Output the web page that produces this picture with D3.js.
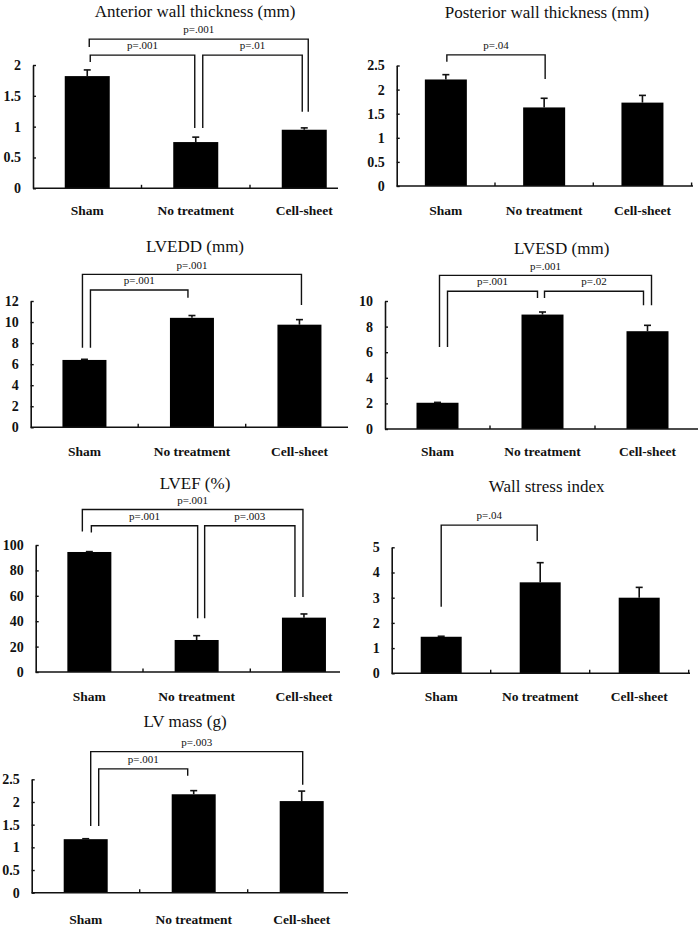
<!DOCTYPE html>
<html><head><meta charset="utf-8">
<script src="https://cdn.jsdelivr.net/npm/d3@7"></script>
<style>
body{margin:0;background:#fff}
svg{display:block}
text{font-family:"Liberation Serif","Times New Roman",serif;fill:#111}
</style>
</head><body>
<svg id="c" width="700" height="926"></svg>
<script>
const categories = ["Sham", "No treatment", "Cell-sheet"];
const titles = ["Anterior wall thickness (mm)", "Posterior wall thickness (mm)", "LVEDD (mm)", "LVESD (mm)", "LVEF (%)", "Wall stress index", "LV mass (g)"];

const anteriorMean = [1.82, 0.75, 0.95];
const anteriorSem = [0.10, 0.08, 0.03];
const anteriorTicks = [0, 0.5, 1, 1.5, 2];
const anteriorBrackets = [
  {from: 0, to: 1, label: "p=.001", top: 2.16, legFrom: 2.05, legTo: 0.98, dxFrom: 3, dxTo: -1},
  {from: 1, to: 2, label: "p=.01", top: 2.16, legFrom: 0.98, legTo: 1.24, dxFrom: 7, dxTo: -2},
  {from: 0, to: 2, label: "p=.001", top: 2.42, legFrom: 2.29, legTo: 1.24, dxFrom: 2, dxTo: 4}
];

const posteriorMean = [2.21, 1.63, 1.73];
const posteriorSem = [0.10, 0.19, 0.15];
const posteriorTicks = [0, 0.5, 1, 1.5, 2, 2.5];
const posteriorBrackets = [
  {from: 0, to: 1, label: "p=.04", top: 2.72, legFrom: 2.58, legTo: 2.22, dxFrom: 1, dxTo: 1}
];

const lvedddMean = [6.4, 10.4, 9.75];
const lvedddSem = [0.06, 0.22, 0.48];
const lvedddTicks = [0, 2, 4, 6, 8, 10, 12];
const lvedddBrackets = [
  {from: 0, to: 1, label: "p=.001", top: 13.04, legFrom: 7.56, legTo: 12.31, dxFrom: 6, dxTo: -4},
  {from: 0, to: 2, label: "p=.001", top: 14.53, legFrom: 7.56, legTo: 11.61, dxFrom: -2, dxTo: 2}
];

const lvesdMean = [2.05, 8.94, 7.64];
const lvesdSem = [0.03, 0.20, 0.46];
const lvesdTicks = [0, 2, 4, 6, 8, 10];
const lvesdBrackets = [
  {from: 0, to: 1, label: "p=.001", top: 10.76, legFrom: 6.41, legTo: 10.23, dxFrom: 10, dxTo: -5},
  {from: 1, to: 2, label: "p=.02", top: 10.76, legFrom: 10.23, legTo: 9.66, dxFrom: 2, dxTo: -4},
  {from: 0, to: 2, label: "p=.001", top: 12.0, legFrom: 6.41, legTo: 9.66, dxFrom: 2, dxTo: 4}
];

const lvefMean = [94.5, 25.2, 42.8];
const lvefSem = [0.3, 3.4, 2.9];
const lvefTicks = [0, 20, 40, 60, 80, 100];
const lvefBrackets = [
  {from: 0, to: 1, label: "p=.001", top: 115.2, legFrom: 109.9, legTo: 42.4, dxFrom: 2, dxTo: 1},
  {from: 1, to: 2, label: "p=.003", top: 115.2, legFrom: 42.4, legTo: 59.0, dxFrom: 8, dxTo: -9},
  {from: 0, to: 2, label: "p=.001", top: 127.9, legFrom: 110.7, legTo: 59.0, dxFrom: -7, dxTo: -1}
];

const stressMean = [1.45, 3.61, 3.0];
const stressSem = [0.02, 0.78, 0.41];
const stressTicks = [0, 1, 2, 3, 4, 5];
const stressBrackets = [
  {from: 0, to: 1, label: "p=.04", top: 5.88, legFrom: 2.64, legTo: 5.25, dxFrom: 0, dxTo: -3}
];

const massMean = [1.18, 2.17, 2.02];
const massSem = [0.01, 0.08, 0.22];
const massTicks = [0, 0.5, 1, 1.5, 2, 2.5];
const massBrackets = [
  {from: 0, to: 1, label: "p=.001", top: 2.73, legFrom: 1.47, legTo: 2.58, dxFrom: 13, dxTo: -6},
  {from: 0, to: 2, label: "p=.003", top: 3.11, legFrom: 1.47, legTo: 2.38, dxFrom: 5, dxTo: 1}
];

// layout (pixel geometry) kept separate from data
const layout = [
  {x0: 33,    bw: 108.5, xEnd: 338, y0: 188.3, yTop: 65,    barW: 45, titleX: 195,   titleY: 11.5,  catY: 211},
  {x0: 396.7, bw: 98.3,  xEnd: 693, y0: 186,   yTop: 65.5,  barW: 42, titleX: 547,   titleY: 12.5,  catY: 211},
  {x0: 30.7,  bw: 107.5, xEnd: 348, y0: 427.3, yTop: 301,   barW: 44, titleX: 195,   titleY: 246.5, catY: 452},
  {x0: 385,   bw: 105,   xEnd: 698, y0: 429,   yTop: 301,   barW: 42, titleX: 561.7, titleY: 248,   catY: 452},
  {x0: 35.7,  bw: 107.3, xEnd: 340, y0: 672,   yTop: 545,   barW: 44, titleX: 195,   titleY: 483,   catY: 697},
  {x0: 391.7, bw: 99,    xEnd: 690, y0: 673.3, yTop: 547.3, barW: 41, titleX: 546.7, titleY: 486.5, catY: 697},
  {x0: 31.7,  bw: 108,   xEnd: 348, y0: 892.7, yTop: 779.3, barW: 44, titleX: 185,   titleY: 721.5, catY: 919.5}
];

const panelData = [
  {mean: anteriorMean,  sem: anteriorSem,  ticks: anteriorTicks,  brackets: anteriorBrackets},
  {mean: posteriorMean, sem: posteriorSem, ticks: posteriorTicks, brackets: posteriorBrackets},
  {mean: lvedddMean,    sem: lvedddSem,    ticks: lvedddTicks,    brackets: lvedddBrackets},
  {mean: lvesdMean,     sem: lvesdSem,     ticks: lvesdTicks,     brackets: lvesdBrackets},
  {mean: lvefMean,      sem: lvefSem,      ticks: lvefTicks,      brackets: lvefBrackets},
  {mean: stressMean,    sem: stressSem,    ticks: stressTicks,    brackets: stressBrackets},
  {mean: massMean,      sem: massSem,      ticks: massTicks,      brackets: massBrackets}
];

const svg = d3.select("#c");
const ink = "#111";

panelData.forEach((pd, i) => {
  const L = layout[i];
  const g = svg.append("g");
  const yMax = pd.ticks[pd.ticks.length - 1];
  const y = d3.scaleLinear().domain([0, yMax]).range([L.y0, L.yTop]);
  const pad = 1 - L.barW / L.bw;
  const x = d3.scaleBand().domain(categories)
    .range([L.x0, L.x0 + 3 * L.bw]).paddingInner(pad).paddingOuter(pad / 2);
  const cx = c => x(c) + x.bandwidth() / 2;

  // title
  g.append("text").attr("x", L.titleX).attr("y", L.titleY).attr("dy", "0.33em")
    .attr("text-anchor", "middle").style("font-size", "17px").text(titles[i]);

  // bars
  g.selectAll("rect.bar").data(categories).join("rect")
    .attr("x", c => x(c)).attr("width", x.bandwidth())
    .attr("y", (c, k) => y(pd.mean[k]))
    .attr("height", (c, k) => y(0) - y(pd.mean[k]))
    .attr("fill", "#000");

  // error bars (upper only)
  categories.forEach((c, k) => {
    const top = y(pd.mean[k] + pd.sem[k]);
    g.append("line").attr("x1", cx(c)).attr("x2", cx(c))
      .attr("y1", y(pd.mean[k])).attr("y2", top)
      .attr("stroke", ink).attr("stroke-width", 1.6);
    g.append("line").attr("x1", cx(c) - 3.5).attr("x2", cx(c) + 3.5)
      .attr("y1", top).attr("y2", top)
      .attr("stroke", ink).attr("stroke-width", 1.6);
  });

  // y axis
  const yAxis = d3.axisLeft(y).tickValues(pd.ticks).tickSize(-3).tickSizeOuter(0)
    .tickPadding(12).tickFormat(d => String(d));
  const ya = g.append("g").attr("transform", `translate(${L.x0},0)`).call(yAxis);
  ya.select(".domain").attr("stroke", ink).attr("stroke-width", 1.6);
  ya.selectAll(".tick line").attr("stroke", ink).attr("stroke-width", 1.4);
  ya.selectAll(".tick text").attr("fill", ink)
    .style("font-family", "'Liberation Serif','Times New Roman',serif")
    .style("font-size", "14px").style("font-weight", "bold");

  // x axis line + category ticks (inward)
  g.append("line").attr("x1", L.x0).attr("x2", L.xEnd).attr("y1", L.y0).attr("y2", L.y0)
    .attr("stroke", ink).attr("stroke-width", 1.6);
  [1, 2, 3].forEach(j => {
    const tx = L.x0 + j * x.step();
    if (tx <= L.xEnd + 1) {
      g.append("line").attr("x1", tx).attr("x2", tx).attr("y1", L.y0).attr("y2", L.y0 - 3.5)
        .attr("stroke", ink).attr("stroke-width", 1.4);
    }
  });

  // category labels
  g.selectAll("text.cat").data(categories).join("text")
    .attr("x", c => cx(c)).attr("y", L.catY).attr("dy", "0.33em")
    .attr("text-anchor", "middle").style("font-size", "13.5px").style("font-weight", "bold")
    .text(c => c);

  // significance brackets
  pd.brackets.forEach(b => {
    const xa = cx(categories[b.from]) + b.dxFrom;
    const xb = cx(categories[b.to]) + b.dxTo;
    const yt = y(b.top);
    g.append("path")
      .attr("d", `M${xa},${y(b.legFrom)}V${yt}H${xb}V${y(b.legTo)}`)
      .attr("fill", "none").attr("stroke", ink).attr("stroke-width", 1.4);
    g.append("text").attr("x", (xa + xb) / 2).attr("y", yt - 9.5).attr("dy", "0.33em")
      .attr("text-anchor", "middle").style("font-size", "11px").text(b.label);
  });
});
</script>
</body></html>
